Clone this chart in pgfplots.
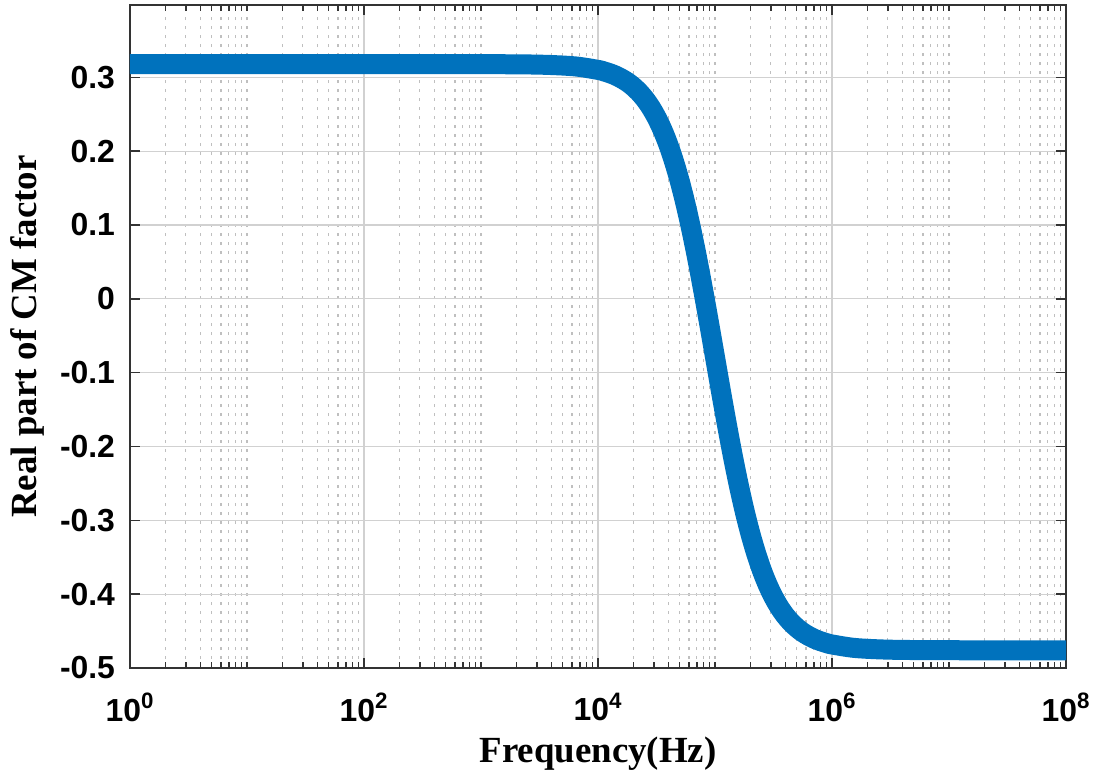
\documentclass[border=0pt]{standalone}
\usepackage{fontspec}
\setmainfont{Liberation Serif}
\newfontfamily\arialf{Liberation Sans}
\usepackage{pgfplots}
\pgfplotsset{compat=1.18}
\definecolor{mblue}{RGB}{0,114,189}
\begin{document}
\begin{tikzpicture}
\begin{axis}[
  scale only axis,
  width=468bp, height=331.5bp,
  xmode=log,
  xmin=1, xmax=1e8, ymin=-0.5, ymax=0.398,
  xtick={1,100,10000,1000000,100000000},
  xticklabels={10\textsuperscript{0},10\textsuperscript{2},10\textsuperscript{4},10\textsuperscript{6},10\textsuperscript{8}},
  minor xtick={2,3,4,5,6,7,8,9,10,20,30,40,50,60,70,80,90,
    200,300,400,500,600,700,800,900,1000,2000,3000,4000,5000,6000,7000,8000,9000,
    20000,30000,40000,50000,60000,70000,80000,90000,100000,200000,300000,400000,500000,600000,700000,800000,900000,
    2000000,3000000,4000000,5000000,6000000,7000000,8000000,9000000,10000000,20000000,30000000,40000000,50000000,60000000,70000000,80000000,90000000},
  ytick={-0.5,-0.4,-0.3,-0.2,-0.1,0,0.1,0.2,0.3},
  yticklabels={-0.5,-0.4,-0.3,-0.2,-0.1,0,0.1,0.2,0.3},
  xmajorgrids, ymajorgrids, xminorgrids,
  major grid style={black!18, line width=0.6bp},
  minor grid style={black!25, line width=0.6bp, dash pattern=on 1.5bp off 3bp},
  tick align=inside,
  major tick length=5bp, minor tick length=3bp,
  axis line style={black!80, line width=0.9bp},
  every tick/.style={black!80, line width=0.7bp},
  ticklabel style={font=\arialf\bfseries\fontsize{16}{16}\selectfont},
  xticklabel style={yshift=-9bp},
  yticklabel style={xshift=-4bp},
  xlabel={Frequency(Hz)},
  ylabel={Real part of CM factor},
  xlabel style={yshift=-1bp},
  ylabel style={yshift=1bp},
  label style={font=\bfseries\fontsize{18.5}{18.5}\selectfont},
]
\addplot[mblue, line width=10bp, smooth] coordinates {
(1,0.318) (10,0.318) (100,0.318) (1000,0.3179) (3162.28,0.3172) (6309.57,0.3149)
(10000,0.3101) (11220.2,0.3081) (12589.3,0.3056) (14125.4,0.3025) (15848.9,0.2985)
(17782.8,0.2937) (19952.6,0.2876) (22387.2,0.2801) (25118.9,0.2709) (28183.8,0.2596)
(31622.8,0.2458) (35481.3,0.2292) (39810.7,0.2094) (44668.4,0.1859) (50118.7,0.1586)
(56234.1,0.1272) (63095.7,0.0919) (70794.6,0.0529) (79432.8,0.0108) (89125.1,-0.0335)
(100000,-0.079) (112202,-0.1245) (125893,-0.1688) (141254,-0.2109) (158489,-0.2499)
(177828,-0.2852) (199526,-0.3166) (223872,-0.3439) (251189,-0.3674) (281838,-0.3872)
(316228,-0.4038) (354813,-0.4176) (398107,-0.4289) (446684,-0.4381) (501187,-0.4456)
(562341,-0.4517) (630957,-0.4565) (707946,-0.4605) (794328,-0.4636) (891251,-0.4661)
(1000000,-0.4681) (1584890,-0.4729) (3162280,-0.4752) (10000000,-0.4759) (100000000,-0.476)
};
\end{axis}
\pgfresetboundingbox
\path ([shift={(-65bp,-55bp)}]current axis.south west) rectangle ([shift={(20bp,2.5bp)}]current axis.north east);
\end{tikzpicture}
\end{document}
